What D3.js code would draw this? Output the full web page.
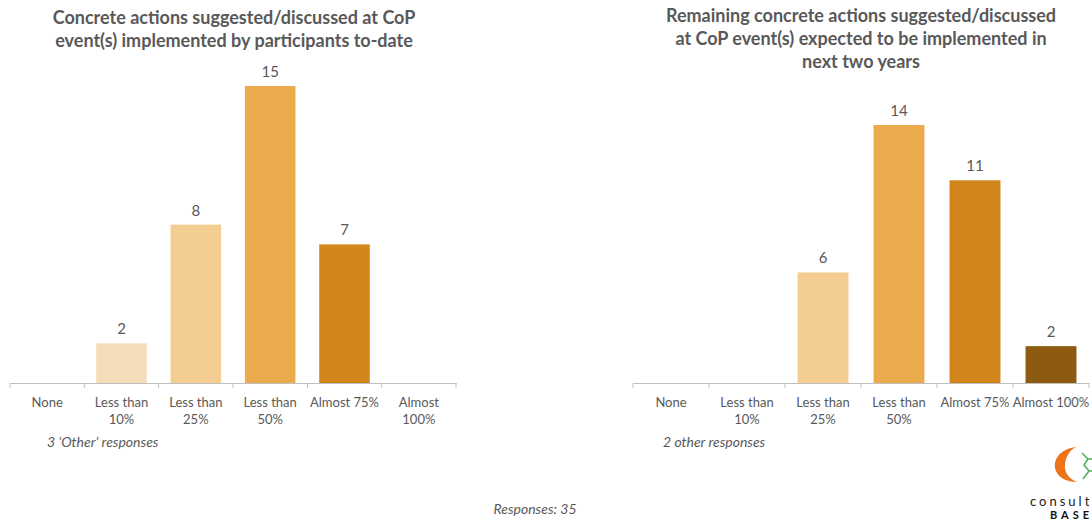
<!DOCTYPE html>
<html>
<head>
<meta charset="utf-8">
<script src="https://cdn.jsdelivr.net/npm/d3@7"></script>
<style>
  html, body { margin: 0; padding: 0; background: #fff; }
  svg { display: block; font-family: Lato, "Open Sans", sans-serif; }
</style>
</head>
<body>
<svg id="chart" width="1092" height="520"></svg>
<script>
// Response categories shared by both panels
const categories = ["None", "Less than 10%", "Less than 25%", "Less than 50%", "Almost 75%", "Almost 100%"];
// Multi-line tick labels per panel
const tickLabelsLeft = [["None"], ["Less than", "10%"], ["Less than", "25%"], ["Less than", "50%"], ["Almost 75%"], ["Almost", "100%"]];
const tickLabelsRight = [["None"], ["Less than", "10%"], ["Less than", "25%"], ["Less than", "50%"], ["Almost 75%"], ["Almost 100%"]];

// Counts of participants per category
const implementedToDate = [0, 2, 8, 15, 7, 0];
const expectedNextTwoYears = [0, 0, 6, 14, 11, 2];

// Category fill colours (light to dark)
const barColors = ["#f5ddb9", "#f5ddb9", "#f3cd92", "#ebaa4c", "#d0861a", "#8c5a10"];

const titleLeft = ["Concrete actions suggested/discussed at CoP", "event(s) implemented by participants to-date"];
const titleRight = ["Remaining concrete actions suggested/discussed", "at CoP event(s) expected to be implemented in", "next two years"];

const svg = d3.select("#chart");
const grey = "#595959";

function panel(cfg) {
  const g = svg.append("g");
  const x = d3.scaleBand().domain(categories).range([cfg.x0, cfg.x1]).paddingInner(cfg.pad).paddingOuter(cfg.pad / 2);
  const y = d3.scaleLinear().domain([0, d3.max(cfg.values)]).range([cfg.base, cfg.top]);
  const data = categories.map((c, i) => ({ c, v: cfg.values[i], color: barColors[i] }));

  // Bars
  g.selectAll("rect.bar").data(data.filter(d => d.v > 0)).join("rect")
    .attr("class", "bar")
    .attr("x", d => x(d.c))
    .attr("width", x.bandwidth())
    .attr("y", d => y(d.v))
    .attr("height", d => y(0) - y(d.v))
    .attr("fill", d => d.color);

  // Value labels
  g.selectAll("text.val").data(data.filter(d => d.v > 0)).join("text")
    .attr("class", "val")
    .attr("x", d => x(d.c) + x.bandwidth() / 2)
    .attr("y", d => y(d.v) - 9)
    .attr("text-anchor", "middle")
    .attr("fill", grey)
    .attr("font-size", 15)
    .text(d => d.v);

  // Category axis
  const axis = d3.axisBottom(x).tickSize(0).tickFormat("");
  const ax = g.append("g").attr("transform", `translate(0,${cfg.base})`).call(axis);
  ax.select(".domain").attr("stroke", "#bfbfbf").attr("stroke-width", 1.2);
  // Category separators
  const edges = categories.map(c => x(c) - x.step() * x.paddingInner() / 2).concat([cfg.x1]);
  ax.selectAll("line.sep").data(edges).join("line")
    .attr("class", "sep")
    .attr("x1", d => d).attr("x2", d => d)
    .attr("y1", 0).attr("y2", 5)
    .attr("stroke", "#bfbfbf");

  // Tick labels
  const tl = g.selectAll("text.tick-label").data(categories).join("text")
    .attr("class", "tick-label")
    .attr("text-anchor", "middle")
    .attr("fill", grey)
    .attr("font-size", 13)
    .attr("transform", c => `translate(${x(c) + x.bandwidth() / 2},${cfg.base + 24})`);
  tl.selectAll("tspan").data((c, i) => cfg.labels[i]).join("tspan")
    .attr("x", 0)
    .attr("dy", (d, i) => i === 0 ? 0 : 17)
    .text(d => d);

  // Title
  const t = g.append("text")
    .attr("text-anchor", "middle")
    .attr("fill", grey)
    .attr("font-size", 18)
    .attr("font-weight", "bold")
    .attr("transform", `translate(${cfg.titleX},${cfg.titleY})`);
  t.selectAll("tspan").data(cfg.title).join("tspan")
    .attr("x", 0)
    .attr("dy", (d, i) => i === 0 ? 0 : 23)
    .text(d => d);

  // Footnote
  g.append("text")
    .attr("x", cfg.noteX).attr("y", 447)
    .attr("fill", grey).attr("font-size", 14).attr("font-style", "italic")
    .text(cfg.note);
}

panel({
  values: implementedToDate, labels: tickLabelsLeft,
  x0: 10, x1: 456, pad: 0.32, base: 383, top: 86,
  title: titleLeft, titleX: 234, titleY: 24,
  note: "3 \u2018Other\u2019 responses", noteX: 47
});

panel({
  values: expectedNextTwoYears, labels: tickLabelsRight,
  x0: 633, x1: 1089, pad: 0.33, base: 383, top: 125,
  title: titleRight, titleX: 861, titleY: 22,
  note: "2 other responses", noteX: 663
});

// Overall response count
svg.append("text")
  .attr("x", 535).attr("y", 514)
  .attr("text-anchor", "middle")
  .attr("fill", grey).attr("font-size", 14).attr("font-style", "italic")
  .text("Responses: 35");

// Company logo (partially cut at the right edge)
const logo = svg.append("g").attr("transform", "translate(1054,447)");
logo.append("path")
  .attr("d", "M22,0 C5,2 -2,14 2,24 C5,31 13,35 23,35 C14,31 10,25 11,17 C12,9 16,3 22,0 Z")
  .attr("fill", "#ec7318");
logo.append("path")
  .attr("d", "M28,6 L34,12 L30,18 L35,24 L29,32 M34,12 L40,12 M35,24 L40,24")
  .attr("fill", "none").attr("stroke", "#4caf50").attr("stroke-width", 1.5);
logo.append("text")
  .attr("x", -24).attr("y", 59)
  .attr("font-size", 13).attr("letter-spacing", 3).attr("fill", "#222")
  .text("consult");
logo.append("text")
  .attr("x", -4).attr("y", 72)
  .attr("font-size", 11).attr("font-weight", "bold").attr("letter-spacing", 4).attr("fill", "#111")
  .text("BASE");
</script>
</body>
</html>
